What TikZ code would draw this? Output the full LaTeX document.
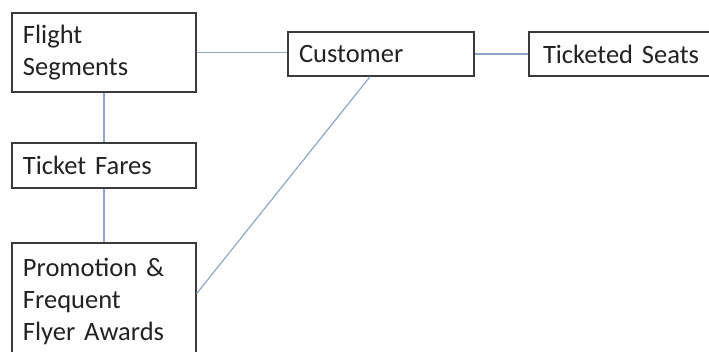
\documentclass[tikz,border=0pt]{standalone}
\usepackage{fontspec}
\setmainfont{Carlito}
\definecolor{boxline}{HTML}{3A3A3A}
\definecolor{conn}{HTML}{8FA8C6}
\definecolor{txt}{HTML}{222222}
\begin{document}
\begin{tikzpicture}[x=1pt,y=-1pt,
  ent/.style={draw=boxline, line width=1.4pt, fill=white, text=txt,
    inner xsep=11pt, inner ysep=0pt, align=left,
    font=\fontsize{26.5}{32}\selectfont},
  link/.style={draw=conn, line width=1.2pt}]
\useasboundingbox (0,0) rectangle (709,351);
\clip (0,0) rectangle (709,351);
\node[ent, text width=162pt, minimum height=79pt] (fs) at (104,52.5) {Flight\\Segments};
\node[ent, text width=164pt, minimum height=44pt] (cust) at (381,54) {Customer};
\node[ent, text width=169pt, minimum height=44pt] (ts) at (624.5,54) {\hspace{3pt}Ticketed Seats};
\node[ent, text width=162pt, minimum height=45pt] (tf) at (104,165.5) {Ticket Fares};
\node[ent, text width=162pt, minimum height=117pt] (pr) at (104,301.5) {Promotion \&\\Frequent\\Flyer Awards};
\draw[link] (fs.east |- 0,52.5) -- (cust.west |- 0,52.5);
\draw[link] (cust.east) -- (ts.west);
\draw[link] (fs.south) -- (tf.north);
\draw[link] (tf.south) -- (pr.north);
\draw[link] ([xshift=-11pt]cust.south) -- ([yshift=8pt]pr.east);
\end{tikzpicture}
\end{document}
